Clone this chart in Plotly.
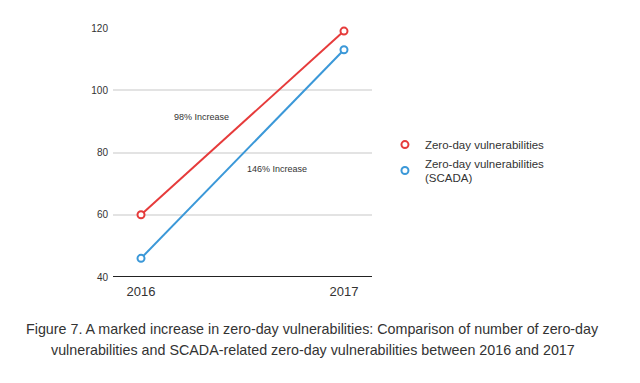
import plotly.graph_objects as go

years = [2016, 2017]
zero_day = [60, 119]
zero_day_scada = [46, 113]
series_names = ["Zero-day vulnerabilities", "Zero-day vulnerabilities<br>(SCADA)"]
annot_texts = ["98% Increase", "146% Increase"]
caption_lines = [
    "Figure 7. A marked increase in zero-day vulnerabilities: Comparison of number of zero-day",
    "vulnerabilities and SCADA-related zero-day vulnerabilities between 2016 and 2017",
]
y_ticks = [40, 60, 80, 100, 120]

RED = "#e63b3b"
BLUE = "#3b98d8"
SANS = "Liberation Sans, Arial, sans-serif"

fig = go.Figure()
for vals, col in [(zero_day, RED), (zero_day_scada, BLUE)]:
    fig.add_trace(go.Scatter(
        x=years, y=vals, mode="lines+markers", showlegend=False,
        line=dict(color=col, width=2),
        marker=dict(symbol="circle", size=7, color="white", line=dict(color=col, width=2)),
        cliponaxis=False, hoverinfo="skip"))
for name, col in zip(series_names, [RED, BLUE]):
    fig.add_trace(go.Scatter(
        x=[None], y=[None], mode="markers", name=name,
        marker=dict(symbol="circle", size=7, color="white", line=dict(color=col, width=2))))

fig.add_annotation(x=2016.30, y=91.4, text=annot_texts[0], showarrow=False,
                   font=dict(family=SANS, size=9, color="#333333"))
fig.add_annotation(x=2016.67, y=74.7, text=annot_texts[1], showarrow=False,
                   font=dict(family=SANS, size=9, color="#333333"))

cx = (312.5 - 113) / 259
fig.add_annotation(xref="paper", yref="paper", x=cx, y=(277 - 329) / 249,
                   text=caption_lines[0], showarrow=False, xanchor="center", yanchor="middle",
                   font=dict(family=SANS, size=14.3, color="#333333"))
fig.add_annotation(xref="paper", yref="paper", x=cx, y=(277 - 350) / 249,
                   text=caption_lines[1], showarrow=False, xanchor="center", yanchor="middle",
                   font=dict(family=SANS, size=14.3, color="#333333"))

fig.update_layout(
    width=640, height=383,
    margin=dict(l=105, r=276, t=20, b=114, autoexpand=False),
    paper_bgcolor="white", plot_bgcolor="white",
    xaxis=dict(range=[2016 - 0.138, 2017 + 0.138], tickvals=years, ticktext=[str(y) for y in years],
               showgrid=False, zeroline=False, showline=False, ticks="", ticklabelstandoff=5,
               tickfont=dict(family=SANS, size=13, color="#333333")),
    yaxis=dict(range=[40, 120], tickvals=y_ticks, showgrid=True, gridcolor="#e3e3e3", gridwidth=1.5,
               zeroline=False, showline=False, ticks="", ticklabelstandoff=4,
               tickfont=dict(family=SANS, size=10, color="#333333")),
    legend=dict(x=1.05, y=0.59, xanchor="left", yanchor="top", bgcolor="rgba(0,0,0,0)",
                font=dict(family=SANS, size=11.5, color="#333333"), tracegroupgap=8,
                itemwidth=30),
    showlegend=True,
)
fig.add_shape(type="line", xref="paper", yref="y", x0=0, x1=1, y0=40, y1=40,
              line=dict(color="#222222", width=2))

fig.write_html("out.html")
